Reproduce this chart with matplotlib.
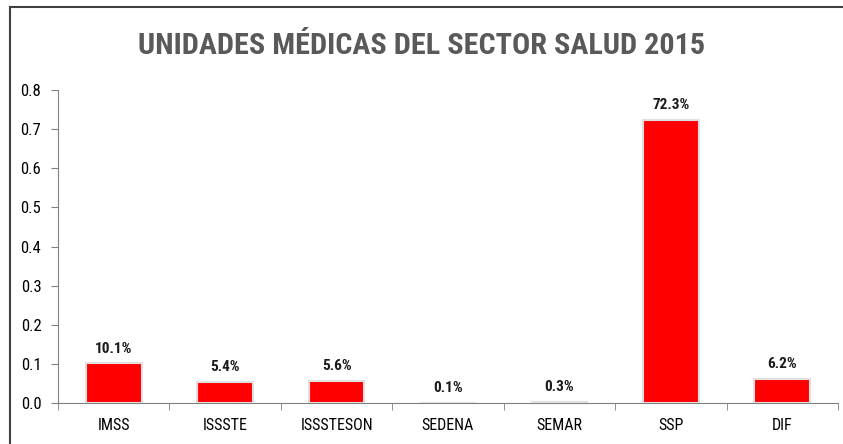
import matplotlib.pyplot as plt
from matplotlib import font_manager
from matplotlib.lines import Line2D

categories = ['IMSS', 'ISSSTE', 'ISSSTESON', 'SEDENA', 'SEMAR', 'SSP', 'DIF']
values = [0.101, 0.054, 0.056, 0.001, 0.003, 0.723, 0.062]
labels = ['10.1%', '5.4%', '5.6%', '0.1%', '0.3%', '72.3%', '6.2%']
yticks = [0.0, 0.1, 0.2, 0.3, 0.4, 0.5, 0.6, 0.7, 0.8]

names = {f.name for f in font_manager.fontManager.ttflist}
wanted = ['Liberation Sans Narrow', 'Roboto Condensed', 'Open Sans Condensed', 'Lato']
fam = [f for f in wanted if f in names][:1] or ['DejaVu Sans']
plt.rcParams['font.family'] = fam + ['DejaVu Sans']

W, H = 843, 444
fig = plt.figure(figsize=(W / 100, H / 100), dpi=100)
ax = fig.add_axes([58 / W, 1 - 403 / H, (838 - 58) / W, (403 - 90) / H])

x = range(len(categories))
ax.bar(x, values, width=0.5, color='#ff0000', edgecolor='#e0e0e0', linewidth=1.5, zorder=3)

for i, (v, lab) in enumerate(zip(values, labels)):
    ax.text(i, v + 0.02, lab, ha='center', va='bottom', fontsize=11, fontweight='bold', color='#1a1a1a')

ax.set_xlim(-0.5, len(categories) - 0.5)
ax.set_ylim(0, 0.8)
ax.set_yticks(yticks)
ax.set_yticklabels(['%.1f' % t for t in yticks], fontsize=12)
ax.set_xticks(list(x))
ax.set_xticklabels(categories, fontsize=11.5)
ax.tick_params(axis='x', length=0, pad=11)
ax.tick_params(axis='y', length=5, color='#808080', pad=7)
ax.set_xticks([i - 0.5 for i in range(len(categories) + 1)], minor=True)
ax.tick_params(axis='x', which='minor', length=5, color='#808080')

for s in ['top', 'right']:
    ax.spines[s].set_visible(False)
for s in ['left', 'bottom']:
    ax.spines[s].set_color('#808080')

fig.text(0.5, 1 - 46 / H, 'UNIDADES MÉDICAS DEL SECTOR SALUD 2015', ha='center', va='center',
         fontsize=21.7, fontweight='bold', color='#595959')

# outer frame (only top and left visible)
fig.add_artist(Line2D([10 / W, 10 / W], [0, 1 - 7 / H], color='#404040', linewidth=1.5))
fig.add_artist(Line2D([10 / W, 1], [1 - 7 / H, 1 - 7 / H], color='#404040', linewidth=1.5))

fig.savefig('out.png', dpi=100)
